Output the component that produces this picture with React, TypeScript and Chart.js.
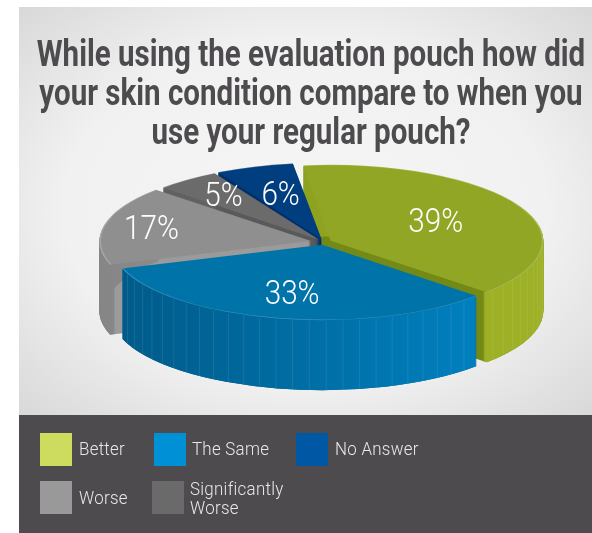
import React, { useEffect, useRef } from "react";
import { Chart, registerables } from "chart.js";

Chart.register(...registerables);

const categories = ["Better", "The Same", "Worse", "Significantly Worse", "No Answer"];
const values = [39, 33, 17, 5, 6];
const titleLines = [
  "While using the evaluation pouch how did",
  "your skin condition compare to when you",
  "use your regular pouch?",
];

const topColors = ["#92a625", "#0073a9", "#8f8f8f", "#6b6b6b", "#003e80"];
const cutColors = ["#748a18", "#005f90", "#9b9b9b", "#5a5a5a", "#00306b"];
const wallLeft = ["#7f9319", "#005a88", "#868686", "#5f5f5f", "#00306b"];
const wallRight = ["#9db026", "#0080bf", "#a0a0a0", "#6a6a6a", "#00306b"];
const sliceOffsets = [30, 32, 53, 28, 30];
const labelRadii = [0.55, 0.67, 0.77, 0.72, 0.6];
const legendColors = ["#cddc5f", "#0090d6", "#0058a5", "#999999", "#6a6a6a"];

const SQUASH = 0.357;
const DEPTH = 70;
const ROTATION = -7.5;
const RADIUS = 210;
const PAINT_ORDER = [0, 4, 3, 2, 1];
const FONT = "Roboto, 'Open Sans', sans-serif";

function effectiveOffset(arc: any, off: number) {
  const o = off / 4;
  return o + o * (1 - Math.sin(Math.min(Math.PI, arc.circumference)));
}

function drawArc(ctx: any, arc: any, color: any, off: number, lift: number, inner: number) {
  const saved = arc.options;
  const savedInner = arc.innerRadius;
  arc.options = {
    backgroundColor: color,
    borderColor: color,
    borderWidth: 0,
    borderRadius: 0,
    borderAlign: "center",
    borderJoinStyle: "round",
    circular: true,
    offset: off,
    spacing: 0,
  };
  arc.innerRadius = inner;
  ctx.save();
  ctx.translate(arc.x, arc.y + lift);
  ctx.scale(1, SQUASH);
  ctx.translate(-arc.x, -arc.y);
  arc.draw(ctx);
  ctx.restore();
  arc.options = saved;
  arc.innerRadius = savedInner;
}

const pie3d = {
  id: "pie3d",
  beforeDatasetsDraw(chart: any) {
    const ctx = chart.ctx;
    const arcs = chart.getDatasetMeta(0).data;
    PAINT_ORDER.forEach((i) => {
      const arc = arcs[i];
      const off = sliceOffsets[i];
      for (let d = DEPTH; d > 0; d--) drawArc(ctx, arc, cutColors[i], off, d, 0);
      const grad = ctx.createLinearGradient(arc.x - RADIUS, 0, arc.x + RADIUS * 0.75, 0);
      grad.addColorStop(0, wallLeft[i]);
      grad.addColorStop(1, wallRight[i]);
      for (let d = DEPTH; d > 0; d--) drawArc(ctx, arc, grad, off, d, arc.outerRadius - 5);

      if (i <= 1) {
        const e = effectiveOffset(arc, off);
        const mid = (arc.startAngle + arc.endAngle) / 2;
        const cx = arc.x + Math.cos(mid) * e;
        const cy = arc.y + Math.sin(mid) * e * SQUASH;
        const step = (4.6 * Math.PI) / 180;
        ctx.save();
        ctx.lineWidth = 1;
        for (let a = arc.startAngle + step; a < arc.endAngle; a += step) {
          if (Math.sin(a) <= 0.02) continue;
          const x = cx + Math.cos(a) * arc.outerRadius;
          const y = cy + Math.sin(a) * arc.outerRadius * SQUASH;
          ctx.strokeStyle = "rgba(255,255,255,0.09)";
          ctx.beginPath();
          ctx.moveTo(x, y + 1);
          ctx.lineTo(x, y + DEPTH);
          ctx.stroke();
        }
        ctx.restore();
      }

      drawArc(ctx, arc, topColors[i], off, 0, 0);
      drawArc(ctx, arc, "rgba(255,255,255,0.22)", off, 0, arc.outerRadius - 1.5);
    });

    ctx.save();
    ctx.fillStyle = "#ffffff";
    ctx.textAlign = "center";
    ctx.textBaseline = "middle";
    ctx.font = `300 33px ${FONT}`;
    arcs.forEach((arc: any, i: number) => {
      const mid = (arc.startAngle + arc.endAngle) / 2;
      const r = effectiveOffset(arc, sliceOffsets[i]) + arc.outerRadius * labelRadii[i];
      ctx.save();
      ctx.translate(arc.x + Math.cos(mid) * r, arc.y + Math.sin(mid) * r * SQUASH + 2);
      ctx.scale(0.9, 1);
      ctx.fillText(`${values[i]}%`, 0, 0);
      ctx.restore();
    });
    ctx.restore();
    return false;
  },
};

const swatch = (left: number, top: number, color: string): React.CSSProperties => ({
  position: "absolute",
  left,
  top,
  width: 32,
  height: 33,
  background: color,
});
const legendText = (left: number, top: number): React.CSSProperties => ({
  position: "absolute",
  left,
  top,
  color: "#e8e8e8",
  fontFamily: FONT,
  fontWeight: 300,
  fontSize: 19,
  lineHeight: "19px",
  letterSpacing: "0.3px",
  whiteSpace: "pre",
  transform: "scaleX(0.89)",
  transformOrigin: "0 0",
});

export default function App() {
  const ref = useRef<HTMLCanvasElement>(null);
  useEffect(() => {
    const chart = new Chart(ref.current as HTMLCanvasElement, {
      type: "pie",
      data: {
        labels: categories,
        datasets: [{ data: values, backgroundColor: topColors, borderWidth: 0, offset: sliceOffsets }],
      },
      options: {
        animation: false,
        responsive: false,
        rotation: ROTATION,
        radius: RADIUS,
        layout: { padding: { left: 56, bottom: 49 } },
        plugins: { legend: { display: false }, tooltip: { enabled: false }, title: { display: false } },
      } as any,
      plugins: [pie3d],
    } as any);
    return () => chart.destroy();
  }, []);

  return (
    <div style={{ position: "absolute", left: 0, top: 0, width: 592, height: 533, background: "#fff", overflow: "hidden" }}>
      <div
        style={{
          position: "absolute",
          left: 19,
          top: 7,
          width: 573,
          height: 408,
          background: "radial-gradient(ellipse 70% 70% at 50% 50%, #f5f5f5 0%, #f1f1f1 60%, #d9d9da 100%)",
        }}
      />
      <div style={{ position: "absolute", left: 19, top: 415, width: 573, height: 118, background: "#4d4b4e" }} />
      <canvas ref={ref} width={592} height={533} style={{ position: "absolute", left: 0, top: 0 }} />
      <div
        style={{
          position: "absolute",
          left: -89,
          top: 35,
          width: 800,
          textAlign: "center",
          color: "#4d4b4e",
          fontFamily: FONT,
          fontWeight: 700,
          fontSize: 36,
          lineHeight: "39px",
          whiteSpace: "nowrap",
          transform: "scaleX(0.82)",
          transformOrigin: "50% 0",
        }}
      >
        {titleLines.map((t) => (
          <div key={t}>{t}</div>
        ))}
      </div>
      <div style={swatch(40, 433, legendColors[0])} />
      <div style={legendText(79, 439)}>{categories[0]}</div>
      <div style={swatch(154, 433, legendColors[1])} />
      <div style={legendText(192, 439)}>{categories[1]}</div>
      <div style={swatch(296, 433, legendColors[2])} />
      <div style={legendText(335, 439)}>{categories[4]}</div>
      <div style={swatch(40, 481, legendColors[3])} />
      <div style={legendText(79, 488)}>{categories[2]}</div>
      <div style={swatch(152, 481, legendColors[4])} />
      <div style={legendText(190, 479)}>{"Significantly\nWorse"}</div>
    </div>
  );
}
